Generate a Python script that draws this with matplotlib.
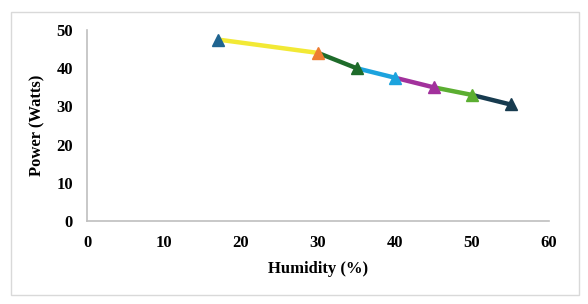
import matplotlib.pyplot as plt
from matplotlib.patches import Rectangle

# data
humidity = [17, 30, 35, 40, 45, 50, 55]
power = [47.5, 44, 40, 37.5, 35, 33, 30.5]
# each segment is its own series in the original
seg_colors = ['#F2E935', '#1E6B2A', '#1CA3DE', '#A2319C', '#5BAE31', '#173B4F']
marker_colors = ['#1F6490', '#ED7D31', '#1E6B2A', '#1CA3DE', '#A2319C', '#5BAE31', '#173B4F']

plt.rcParams['font.family'] = 'Liberation Serif'
plt.rcParams['font.weight'] = 'bold'

fig = plt.figure(figsize=(5.88, 3.04), dpi=100)
ax = fig.add_axes([87 / 588, 1 - 221 / 304, 462 / 588, 191 / 304])

# segments
for i in range(len(seg_colors)):
    ax.plot(humidity[i:i + 2], power[i:i + 2], color=seg_colors[i], lw=3.2,
            solid_capstyle='butt', zorder=2)
# markers
for i in range(len(humidity)):
    ax.plot(humidity[i], power[i], marker='^', ms=9, color=marker_colors[i],
            mec=marker_colors[i], zorder=3, clip_on=False)

ax.set_xlim(0, 60)
ax.set_ylim(0, 50)
ax.set_xticks(range(0, 61, 10))
ax.set_yticks(range(0, 51, 10))
ax.tick_params(length=0, labelsize=12, pad=10)
for lab in ax.get_xticklabels() + ax.get_yticklabels():
    lab.set_fontweight('bold')
for s in ['top', 'right']:
    ax.spines[s].set_visible(False)
for s in ['left', 'bottom']:
    ax.spines[s].set_color('#BFBFBF')
    ax.spines[s].set_linewidth(1.2)

ax.set_xlabel('Humidity (%)', fontsize=12, fontweight='bold', labelpad=7)
ax.set_ylabel('Power (Watts)', fontsize=12, fontweight='bold', labelpad=8)

# light frame round the chart
fig.patches.append(Rectangle((11 / 588, 1 - 295 / 304), 568 / 588, 283 / 304,
                             transform=fig.transFigure, fill=False,
                             edgecolor='#D9D9D9', lw=1))

plt.savefig('out.png', dpi=100)
